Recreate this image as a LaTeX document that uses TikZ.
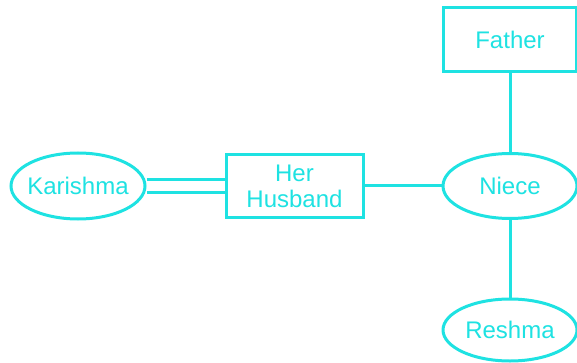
\documentclass[tikz,border=0pt]{standalone}
\usepackage{fontspec}
\setmainfont{Liberation Sans}
\usepackage{tikz}
\usetikzlibrary{shapes.geometric}
\definecolor{erline}{RGB}{30,226,226}

\begin{document}
\begin{tikzpicture}[x=1pt,y=-1pt]
\tikzstyle{every node}+=[inner sep=0pt,text=erline,font=\fontsize{24}{26}\selectfont,align=center]
\tikzstyle{entity}=[draw=erline,line width=3pt,rectangle,fill=white]
\tikzstyle{attrib}=[draw=erline,line width=3pt,ellipse,fill=white,inner xsep=-25pt,minimum width=134pt]
\tikzstyle{link}=[erline,line width=3pt]
\useasboundingbox (0,0) rectangle (577,363);
\node [attrib,minimum height=66pt] (karishma) at (78,186) {Karishma};
\node [entity,minimum width=137pt,minimum height=63pt] (husband) at (294.5,186) {Her\\Husband};
\node [attrib,minimum height=65pt] (niece) at (510,186) {Niece};
\node [entity,minimum width=133pt,minimum height=64pt] (father) at (510,39.5) {Father};
\node [attrib,minimum height=62pt] (reshma) at (510,330) {Reshma};
\draw [link] ([yshift=-6.5pt]karishma.east) -- ([yshift=-6.5pt]husband.west);
\draw [link] ([yshift=6.5pt]karishma.east) -- ([yshift=6.5pt]husband.west);
\draw [link] (husband) -- (niece);
\draw [link] (father) -- (niece);
\draw [link] (niece) -- (reshma);
\end{tikzpicture}
\end{document}
